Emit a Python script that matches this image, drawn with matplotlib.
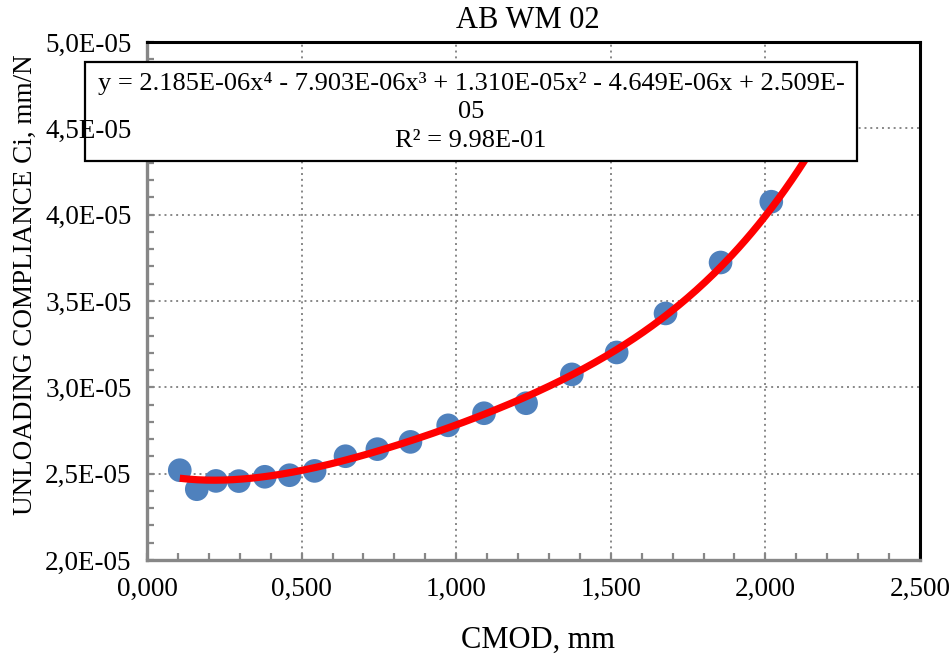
import matplotlib
matplotlib.use("Agg")
import matplotlib.pyplot as plt
import numpy as np
from matplotlib.patches import Rectangle
from matplotlib.ticker import MultipleLocator, FuncFormatter

plt.rcParams['font.family'] = ['Liberation Serif', 'DejaVu Serif']

# Measured unloading compliance vs crack mouth opening displacement
cmod = [0.106, 0.161, 0.223, 0.297, 0.381, 0.461, 0.542, 0.642, 0.745,
        0.852, 0.974, 1.090, 1.226, 1.374, 1.519, 1.677, 1.855, 2.019]
compliance = [2.520e-5, 2.410e-5, 2.458e-5, 2.457e-5, 2.482e-5, 2.491e-5,
              2.516e-5, 2.601e-5, 2.642e-5, 2.684e-5, 2.780e-5, 2.850e-5,
              2.908e-5, 3.075e-5, 3.202e-5, 3.428e-5, 3.723e-5, 4.075e-5]

# 4th-order polynomial trend line (highest power first)
poly_coeffs = [2.185e-06, -7.903e-06, 1.310e-05, -4.649e-06, 2.509e-05]
r_squared = 9.98e-01
trend_end = 2.25

title = "AB WM 02"
xlabel = "CMOD, mm"
ylabel = "UNLOADING COMPLIANCE Ci, mm/N"

W, H = 952, 664
fig = plt.figure(figsize=(W / 100, H / 100), dpi=100)
fig.patch.set_facecolor('white')

left, right, top, bottom = 147, 920, 42, 560
pos = [left / W, 1 - bottom / H, (right - left) / W, (bottom - top) / H]
ax = fig.add_axes(pos)

grey = '#878787'
ax.set_xlim(0, 2.5)
ax.set_ylim(2.0e-5, 5.0e-5)
ax.xaxis.set_major_locator(MultipleLocator(0.5))
ax.xaxis.set_minor_locator(MultipleLocator(0.1))
ax.yaxis.set_major_locator(MultipleLocator(0.5e-5))
ax.yaxis.set_minor_locator(MultipleLocator(0.1e-5))
ax.xaxis.set_major_formatter(FuncFormatter(lambda v, p: f"{v:.3f}".replace('.', ',')))

ax.grid(True, which='major', color=grey, linestyle=(0, (1, 2)), linewidth=1.4)
ax.set_axisbelow(True)

for s in ('left', 'bottom'):
    ax.spines[s].set_color(grey)
    ax.spines[s].set_linewidth(2.4)
for s in ('top', 'right'):
    ax.spines[s].set_color('black')
    ax.spines[s].set_linewidth(2.2)

ax.tick_params(which='both', direction='in', color=grey, width=1.6)
ax.tick_params(which='major', length=5)
ax.tick_params(which='minor', length=5)
ax.tick_params(axis='x', labelsize=19.5, pad=12)
ax.tick_params(axis='y', labelleft=False)

# data points and polynomial trend line
ax.scatter(cmod, compliance, s=290, color='#4F81BD', edgecolors='none', zorder=3)
xf = np.linspace(cmod[0], trend_end, 300)
ax.plot(xf, np.polyval(poly_coeffs, xf), color='#FF0000', linewidth=5.2,
        solid_capstyle='butt', zorder=4)

# trend line label box
bx0, bx1, by0, by1 = 85, 857, 62, 161
box = Rectangle((bx0 / W, 1 - by1 / H), (bx1 - bx0) / W, (by1 - by0) / H,
                transform=fig.transFigure, facecolor='white', edgecolor='black',
                linewidth=1.6, clip_on=False, zorder=10)
ax.add_artist(box)

def fmt_sci(v):
    return f"{v:.3E}"

c4, c3, c2, c1, c0 = poly_coeffs
eq_line = (f"y = {fmt_sci(c4)}x\u2074 - {fmt_sci(-c3)}x\u00b3 + {fmt_sci(c2)}x\u00b2"
           f" - {fmt_sci(-c1)}x + ")
c0_text = fmt_sci(c0)
c0_head, c0_tail = c0_text[:-2], c0_text[-2:]
r2_line = f"R\u00b2 = {r_squared:.2E}"
ax.text((bx0 + bx1) / 2 / W, 1 - 112 / H,
        eq_line + c0_head + "\n" + c0_tail + "\n" + r2_line,
        transform=fig.transFigure, ha='center', va='center', multialignment='center',
        fontsize=19, linespacing=1.38, zorder=11)

# y tick labels drawn on an overlay so they sit above the label box
ax2 = fig.add_axes(pos, sharey=ax, zorder=ax.get_zorder() + 1)
ax2.patch.set_visible(False)
for s in ax2.spines.values():
    s.set_visible(False)
ax2.set_xticks([])
ax2.yaxis.set_major_formatter(FuncFormatter(lambda v, p: f"{v:.1E}".replace('.', ',')))
ax2.tick_params(axis='y', which='both', length=0, labelsize=19.5, pad=11)

fig.text(528 / W, 1 - 21 / H, title, ha='center', va='center', fontsize=22)
fig.text(538 / W, 1 - 640 / H, xlabel, ha='center', va='center', fontsize=22)
fig.text(25 / W, 1 - 285 / H, ylabel, ha='center', va='center', rotation=90, fontsize=19.5)

fig.savefig('out.png', dpi=100)
